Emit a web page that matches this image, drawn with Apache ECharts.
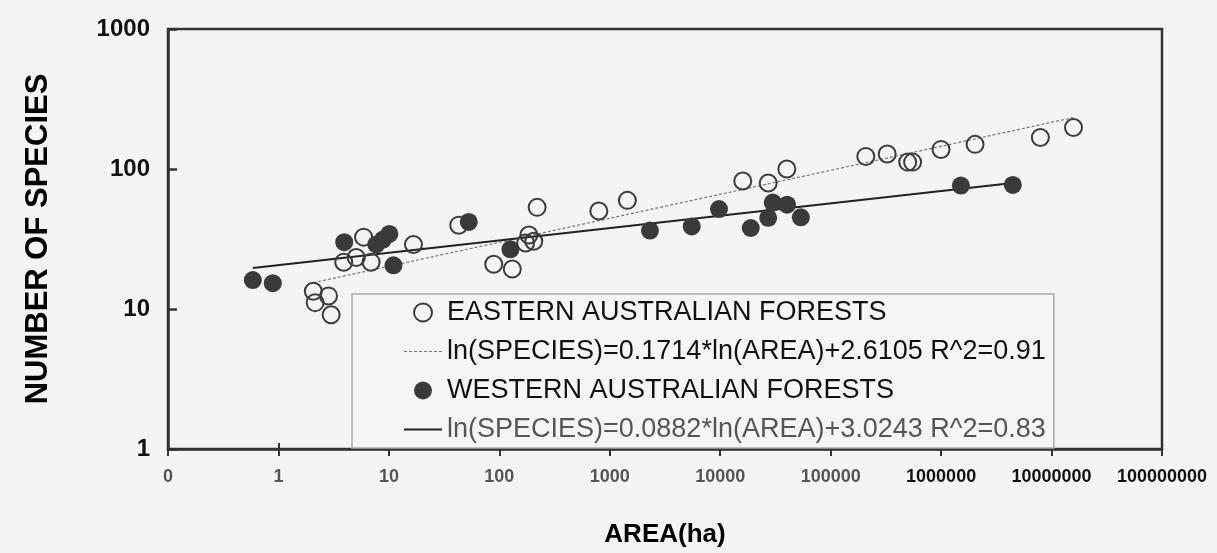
<!DOCTYPE html>
<html>
<head>
<meta charset="utf-8">
<script src="https://cdn.jsdelivr.net/npm/echarts@6/dist/echarts.min.js"></script>
<style>
  html, body { margin: 0; padding: 0; background: #f4f4f4; }
  #chart { width: 1217px; height: 553px; }
</style>
</head>
<body>
<div id="chart"></div>
<script>
// Species richness vs forest area (log-log), eastern and western Australian forests
const eastArea = [2.07, 2.84, 2.15, 3.0, 3.9, 5.06, 5.9, 6.9, 16.7, 42.9, 89, 131, 185, 173, 205, 220,
  796, 1443, 16000, 27200, 40100, 208000, 325000, 498000, 552000, 998000, 2030000, 7920000, 15800000];
const eastSpecies = [13.4, 12.4, 11.1, 9.1, 21.6, 23.3, 32.6, 21.6, 28.9, 39.7, 20.9, 19.3, 33.8, 29.6, 30.5, 53.2,
  50.1, 59.7, 82.1, 79.5, 100, 123, 128, 112, 112, 138, 150, 168, 198];
const westArea = [0.586, 0.889, 3.94, 7.69, 8.84, 10.1, 11.0, 52.9, 126, 2310, 5520, 9750, 18900, 27200,
  29900, 40300, 53700, 1510000, 4460000];
const westSpecies = [16.1, 15.3, 30.0, 28.9, 31.3, 34.4, 20.5, 41.9, 26.7, 36.3, 38.9, 51.7, 37.9, 44.8,
  57.6, 55.6, 45.2, 76.2, 77.0];

// Fitted power laws: [slope, intercept, R^2] of ln(SPECIES) = a*ln(AREA) + b
const eastFit = [0.1714, 2.6105, 0.91];
const westFit = [0.0882, 3.0243, 0.83];

const xTickLabels = ['0', '1', '10', '100', '1000', '10000', '100000', '1000000', '10000000', '100000000'];
const yTickLabels = ['1', '10', '100', '1000'];

const seriesNames = ['EASTERN AUSTRALIAN FORESTS', 'WESTERN AUSTRALIAN FORESTS'];

const FONT = 'Liberation Sans, Arial, Helvetica, sans-serif';

function fitName(fit) {
  return 'ln(SPECIES)=' + fit[0] + '*ln(AREA)+' + fit[1] + ' R^2=' + fit[2].toFixed(2);
}
function fitLine(fit, xs) {
  const lo = Math.min(...xs), hi = Math.max(...xs);
  return [lo, hi].map(a => [a, Math.exp(fit[0] * Math.log(a) + fit[1])]);
}
function pairs(xs, ys) { return xs.map((x, i) => [x, ys[i]]); }
function logIndex(v) { return Math.round(Math.log10(v)); }

// Legend keys for the fitted lines: a dotted and a solid stroke
function dottedKey(len, dash, gap) {
  let p = 'path://';
  for (let x = 0; x < len; x += dash + gap) p += 'M' + x + ',0h' + dash + 'v1h-' + dash + 'z';
  return p;
}
const solidKey = 'path://M0,0h38v2h-38z';

const eastFitName = fitName(eastFit);
const westFitName = fitName(westFit);

const chart = echarts.init(document.getElementById('chart'), null, { renderer: 'canvas' });

const axisColor = '#333';
const eastLineColor = '#777';
const westLineColor = '#222';

chart.setOption({
  backgroundColor: '#f4f4f4',
  animation: false,
  grid: {
    left: 168, right: 55, top: 29, bottom: 90,
    show: true, borderColor: axisColor, borderWidth: 2.5, backgroundColor: 'transparent'
  },
  xAxis: [{
    type: 'log', logBase: 10, min: 0.1, max: 1e8,
    name: 'AREA(ha)', nameLocation: 'middle', nameGap: 73,
    nameTextStyle: { fontFamily: FONT, fontWeight: 'bold', fontSize: 26, color: '#000' },
    axisLine: { show: true, lineStyle: { color: axisColor, width: 2.5 } },
    axisTick: { show: true, inside: false, length: 7, lineStyle: { color: axisColor, width: 2 } },
    splitLine: { show: false },
    axisLabel: {
      margin: 19,
      formatter: v => {
        const i = logIndex(v) + 1;
        const t = xTickLabels[i];
        return i >= 7 ? '{b|' + t + '}' : '{g|' + t + '}';
      },
      rich: {
        g: { fontFamily: FONT, fontWeight: 'bold', fontSize: 18, color: '#555' },
        b: { fontFamily: FONT, fontWeight: 'bold', fontSize: 18, color: '#111' }
      }
    }
  }, {
    // inner half of the crossing x ticks
    type: 'log', logBase: 10, min: 0.1, max: 1e8, position: 'bottom',
    axisLine: { show: false },
    axisTick: { show: true, inside: true, length: 6, lineStyle: { color: axisColor, width: 2 } },
    axisLabel: { show: false },
    splitLine: { show: false }
  }],
  yAxis: {
    type: 'log', logBase: 10, min: 1, max: 1000,
    name: 'NUMBER OF SPECIES', nameLocation: 'middle', nameRotate: 90, nameGap: 114,
    nameTextStyle: { fontFamily: FONT, fontWeight: 'bold', fontSize: 31, color: '#000' },
    axisLine: { show: true, lineStyle: { color: axisColor, width: 2.5 } },
    axisTick: { show: true, inside: true, length: 9, lineStyle: { color: axisColor, width: 2.5 } },
    splitLine: { show: false },
    axisLabel: {
      margin: 18, fontFamily: FONT, fontWeight: 'bold', fontSize: 24, color: '#111',
      formatter: v => yTickLabels[logIndex(v)]
    }
  },
  legend: {
    orient: 'vertical', left: 352, top: 294,
    padding: [5, 8, 5, 52], itemGap: 12, itemWidth: 38, itemHeight: 18,
    borderColor: '#aaa', borderWidth: 1.5, backgroundColor: '#f5f5f5',
    selectedMode: false,
    data: [
      { name: seriesNames[0] },
      { name: eastFitName, icon: dottedKey(38, 3, 2), itemStyle: { color: eastLineColor } },
      { name: seriesNames[1] },
      { name: westFitName, icon: solidKey, itemStyle: { color: westLineColor } }
    ],
    formatter: name => name === westFitName ? '{g|' + name + '}' : '{k|' + name + '}',
    textStyle: {
      fontFamily: FONT, fontSize: 27, color: '#111',
      rich: {
        k: { fontFamily: FONT, fontSize: 27, color: '#111' },
        g: { fontFamily: FONT, fontSize: 27, color: '#555' }
      }
    }
  },
  series: [{
    name: eastFitName, type: 'line', xAxisIndex: 0, z: 1,
    data: fitLine(eastFit, eastArea), symbol: 'none',
    itemStyle: { color: eastLineColor },
    lineStyle: { color: eastLineColor, width: 1.2, type: [3, 2] }
  }, {
    name: westFitName, type: 'line', xAxisIndex: 0, z: 1,
    data: fitLine(westFit, westArea), symbol: 'none',
    itemStyle: { color: westLineColor },
    lineStyle: { color: westLineColor, width: 2 }
  }, {
    name: seriesNames[1], type: 'scatter', xAxisIndex: 0, z: 2,
    data: pairs(westArea, westSpecies), symbol: 'circle', symbolSize: 18,
    itemStyle: { color: '#3a3a3a', borderColor: '#3a3a3a', borderWidth: 0, opacity: 1 }
  }, {
    name: seriesNames[0], type: 'scatter', xAxisIndex: 0, z: 3,
    data: pairs(eastArea, eastSpecies), symbol: 'circle', symbolSize: 17,
    itemStyle: { color: 'rgba(244,244,244,0)', borderColor: '#3c3c3c', borderWidth: 2, opacity: 1 }
  }]
});
</script>
</body>
</html>
